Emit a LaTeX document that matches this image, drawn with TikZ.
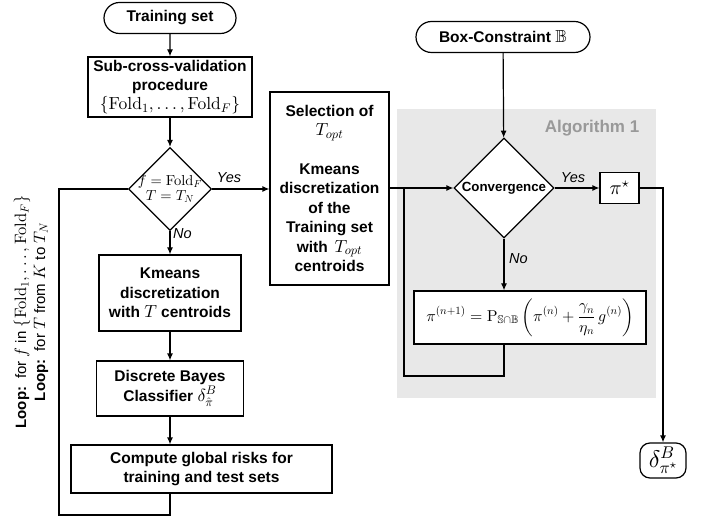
\documentclass[tikz,border=0pt]{standalone}
\usepackage{amsmath,amssymb}
\usepackage[no-math]{fontspec}
\setmainfont{Liberation Sans}
\DeclareFontShape{OML}{cmm}{m}{it}{<->cmmi10}{}
\DeclareFontShape{OMS}{cmsy}{m}{n}{<->cmsy10}{}
\DeclareFontShape{OMX}{cmex}{m}{n}{<->cmex10}{}
\DeclareFontShape{OT1}{cmr}{m}{n}{<->cmr10}{}
\DeclareFontFamily{U}{msb}{}
\DeclareFontShape{U}{msb}{m}{n}{<->msbm10}{}
\DeclareMathSizes{15.5}{17.5}{12.5}{10}
\DeclareMathSizes{15}{16.5}{11.5}{9}
\DeclareMathSizes{24}{24}{17}{12.5}
\usetikzlibrary{shapes.geometric,shapes.misc,arrows.meta}
\tikzset{
  box/.style={draw, line width=1.2pt, fill=white, align=center, inner sep=1pt,
    font=\bfseries\fontsize{15.5}{19.5}\selectfont},
  pill/.style={box, rounded rectangle},
  dia/.style={draw, line width=1.2pt, fill=white, diamond, inner sep=0pt},
  arr/.style={-{Latex[length=7pt,width=6pt]}, line width=1.2pt},
  ln/.style={line width=1.2pt},
  lab/.style={font=\itshape\fontsize{14.5}{17}\selectfont, inner sep=1pt},
}
\begin{document}
\begin{tikzpicture}[x=1pt,y=-1pt]
\useasboundingbox (0,0) rectangle (709,518);
% gray region
\fill[black!9] (397,109) rectangle (656,398);
\node[font=\bfseries\fontsize{17}{20}\selectfont, text=black!40] (alg) at (592,128) {Algorithm 1};

% left column
\node[pill, minimum width=134, minimum height=31] (train) at (170,18) {Training set};
\node[box, minimum width=164, minimum height=60] (sub) at (170,87)
  {Sub-cross-validation\\procedure\\[-1pt]$\{\mathrm{Fold}_1,\ldots,\mathrm{Fold}_F\}$};
\node[dia, minimum width=83, minimum height=83] (dec) at (170,189) {};
\node[align=center, inner sep=0pt, font=\fontsize{14.5}{15}\selectfont] (dect) at (dec.center)
  {$f=\mathrm{Fold}_F$\\$T=T_N$};
\node[box, minimum width=142, minimum height=76] (km) at (170,293)
  {Kmeans\\discretization\\with $T$ centroids};
\node[box, minimum width=147, minimum height=55] (bayes) at (170,388.5)
  {Discrete Bayes\\Classifier $\delta^B_{\hat\pi}$};
\node[box, minimum width=261, minimum height=48] (comp) at (201.5,469)
  {Compute global risks for\\training and test sets};
\node[box, minimum width=119, minimum height=193] (sel) at (329.5,188.5)
  {Selection of\\$T_{opt}$\\[19pt]Kmeans\\discretization\\of the\\Training set\\with\, $T_{opt}$\\centroids};

\node[rotate=90, align=center, font=\fontsize{15}{19}\selectfont] (loop) at (31,312)
  {\textbf{Loop:}\, for $f$ in $\{\mathrm{Fold}_1,\ldots,\mathrm{Fold}_F\}$\\
   \textbf{Loop:}\, for $T$ from $K$ to $T_N$};

% right part
\node[pill, minimum width=176, minimum height=31] (bc) at (503,37) {Box-Constraint $\mathbb{B}$};
\node[dia, minimum width=100, minimum height=100, font=\bfseries\fontsize{13.3}{15}\selectfont] (conv) at (504,188) {Convergence};
\node[box, minimum width=232, minimum height=53, font=\fontsize{15.8}{17}\selectfont] (form) at (530,317.5)
  {$\displaystyle \pi^{(n+1)} = \mathrm{P}_{\mathbb{S}\cap\mathbb{B}}\left(\pi^{(n)}+\frac{\gamma_n}{\eta_n}\,g^{(n)}\right)$};
\node[box, minimum width=39, minimum height=31, font=\fontsize{20}{22}\selectfont] (pist) at (619.5,188) {$\pi^\star$};
\node[box, rounded corners=10pt, minimum width=46, minimum height=35, inner sep=0pt, font=\fontsize{24}{26}\selectfont] (delta) at (663,460.5) {$\delta^B_{\pi^\star}$};

% connectors left
\draw[arr] (train) -- (sub);
\draw[arr] (sub) -- (dec);
\draw[arr] (dec) -- (km);
\node[lab, anchor=west] (no1) at (172,234) {No};
\draw[arr] (dec.east) -- (dec.east -| sel.west);
\node[lab] (yes1) at (229,178) {Yes};
\draw[arr] (km) -- (bayes);
\draw[arr] (bayes.south) -- (bayes.south |- comp.north);
\coordinate (lb) at (59,515);
\draw[ln] (bayes.south |- comp.south) -- (bayes.south |- lb) -- (lb) -- (lb |- dec.west) -- (dec.west);

% connectors right
\draw[arr] (conv -| sel.east) -- (conv.west);
\coordinate (fb) at (404,376);
\draw[ln] (conv |- form.south) -- (conv |- fb) -- (fb) -- (fb |- conv);
\draw[arr] (bc) -- (conv);
\draw[arr] (conv) -- (conv |- form.north);
\node[lab, anchor=west] (no2) at (508,259) {No};
\draw[arr] (conv.east) -- (pist.west);
\node[lab] (yes2) at (573,178) {Yes};
\coordinate (pr) at (663,188);
\draw[arr] (pist.east) -- (pr) -- (delta.north);
\end{tikzpicture}
\end{document}
